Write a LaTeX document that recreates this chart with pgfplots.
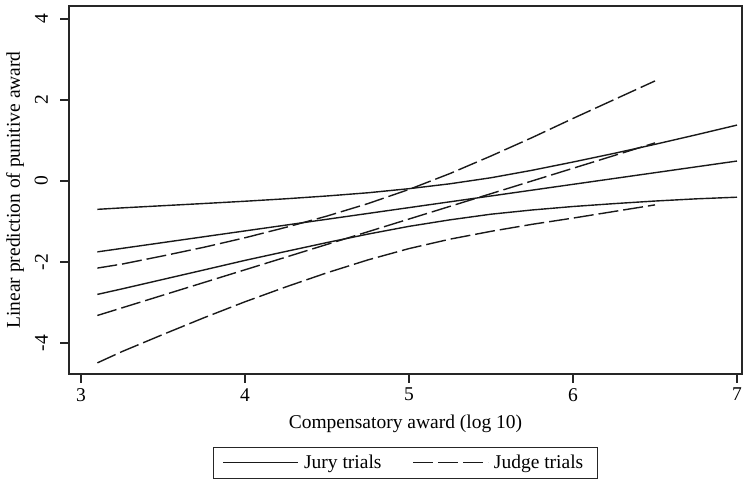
\documentclass[border=0pt]{standalone}
\usepackage{fontspec}
\setmainfont{Liberation Serif}
\usepackage{pgfplots}
\pgfplotsset{compat=1.18}
\begin{document}
\begin{tikzpicture}
\begin{axis}[
    name=ax,
    scale only axis,
    width=673bp, height=368bp,
    xmin=2.927, xmax=7.0305,
    ymin=-4.765, ymax=4.32,
    xtick={3,4,5,6,7},
    ytick={-4,-2,0,2,4},
    tick pos=left,
    tick align=outside,
    major tick length=8.5bp,
    every tick/.style={black!85, line width=1.1bp},
    axis line style={black!85, line width=1.2bp},
    font=\fontsize{19.5bp}{23bp}\selectfont,
    /pgf/number format/assume math mode=true,
    yticklabel style={rotate=90, anchor=south, inner sep=0pt},
    yticklabel shift=12.5bp,
    xticklabel style={anchor=north, inner sep=0pt},
    xticklabel shift=5.5bp,
    xlabel={Compensatory award (log 10)},
    ylabel={Linear prediction of punitive award},
    xlabel style={at={(axis description cs:0.5,-0.135)}, anchor=center, inner sep=0pt},
    ylabel style={at={(axis description cs:-0.0802,0.5)}, anchor=center, inner sep=0pt},
    legend columns=2,
    legend style={at={(axis description cs:0.5,-0.198)}, anchor=north,
        draw=black!85, line width=0.8bp, inner xsep=9bp, inner ysep=3bp,
        font=\fontsize{19.5bp}{23bp}\selectfont,
        nodes={inner sep=5bp, anchor=west}},
    /tikz/every even column/.append style={column sep=26bp},
    legend image code/.code={\draw[#1] (0bp,0bp) -- (75bp,0bp);},
]
% Jury trials: fit and confidence band
\addplot[black!90, line width=1.4bp, solid, no marks] coordinates {(3.1,-1.75) (7.0,0.4925)};
\addlegendentry{Jury trials}
\addplot[black!90, line width=1.4bp, dash pattern=on 20bp off 5bp, no marks] coordinates {(3.1,-3.32) (6.5,0.94)};
\addlegendentry{Judge trials}
\addplot[black!90, line width=1.4bp, solid, no marks] coordinates {
(3.1,-0.70) (3.25,-0.664) (3.5,-0.61) (3.75,-0.556) (4.0,-0.50) (4.25,-0.439)
(4.5,-0.37) (4.75,-0.291) (5.0,-0.19) (5.25,-0.069) (5.5,0.08) (5.75,0.264)
(6.0,0.468) (6.25,0.681) (6.5,0.905) (6.75,1.139) (7.0,1.38)};
\addplot[black!90, line width=1.4bp, solid, no marks] coordinates {
(3.1,-2.80) (3.25,-2.664) (3.5,-2.43) (3.75,-2.196) (4.0,-1.96) (4.25,-1.739)
(4.5,-1.52) (4.75,-1.311) (5.0,-1.12) (5.25,-0.959) (5.5,-0.82) (5.75,-0.716)
(6.0,-0.63) (6.25,-0.559) (6.5,-0.495) (6.75,-0.441) (7.0,-0.40)};
% Judge trials: confidence band
\addplot[black!90, line width=1.4bp, dash pattern=on 20bp off 5bp, no marks] coordinates {
(3.1,-2.15) (3.25,-2.052) (3.5,-1.849) (3.75,-1.636) (4.0,-1.402) (4.25,-1.144)
(4.5,-0.866) (4.75,-0.558) (5.0,-0.209) (5.25,0.184) (5.5,0.617) (5.75,1.07)
(6.0,1.544) (6.25,2.007) (6.5,2.47)};
\addplot[black!90, line width=1.4bp, dash pattern=on 20bp off 5bp, no marks] coordinates {
(3.1,-4.49) (3.25,-4.212) (3.5,-3.789) (3.75,-3.376) (4.0,-2.982) (4.25,-2.614)
(4.5,-2.266) (4.75,-1.948) (5.0,-1.669) (5.25,-1.436) (5.5,-1.243) (5.75,-1.07)
(6.0,-0.916) (6.25,-0.753) (6.5,-0.59)};
\end{axis}
\pgfresetboundingbox
\path[use as bounding box] ([xshift=-69bp,yshift=-110bp]ax.south west)
    rectangle ([xshift=1bp,yshift=6bp]ax.north east);
\end{tikzpicture}
\end{document}
